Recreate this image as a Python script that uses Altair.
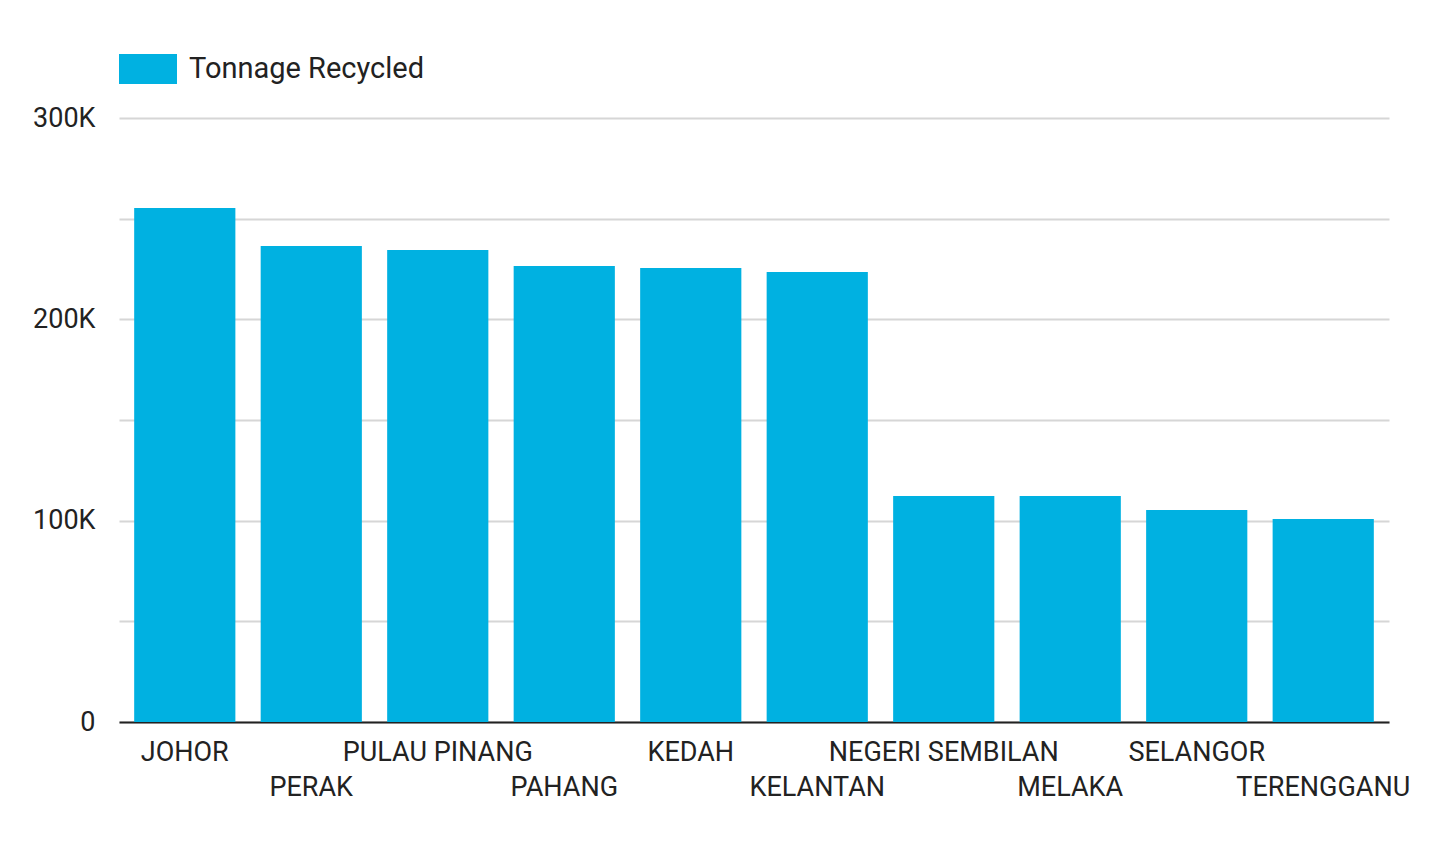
import altair as alt
import pandas as pd

states = ["JOHOR", "PERAK", "PULAU PINANG", "PAHANG", "KEDAH", "KELANTAN",
          "NEGERI SEMBILAN", "MELAKA", "SELANGOR", "TERENGGANU"]
tonnage = [255300, 236400, 234400, 226500, 225500, 223500,
           112300, 112300, 105300, 100800]
series = ["Tonnage Recycled"] * len(states)

df = pd.DataFrame({"state": states, "tonnage": tonnage, "series": series})

second_row = states[1::2]
second_row_expr = "[" + ",".join("'" + s + "'" for s in second_row) + "]"

FONT = "Roboto"
TXT = "#222222"

chart = alt.Chart(df).mark_bar(color="#00b1e1").encode(
    x=alt.X("state:N", sort=states, title=None,
            scale=alt.Scale(paddingInner=0.2, paddingOuter=0.12),
            axis=alt.Axis(
                labelAngle=0, labelFontSize=27, labelFont=FONT, labelColor=TXT,
                labelPadding=17, labelLineHeight=35, ticks=False, grid=False,
                domainColor="#222222", domainWidth=2, labelFlush=False,
                labelOverlap=False, labelBaseline="top", labelLimit=600,
                labelExpr=f"indexof({second_row_expr}, datum.value) >= 0 ? ['', datum.label] : datum.label",
            )),
    y=alt.Y("tonnage:Q", title=None,
            scale=alt.Scale(domain=[0, 300000], nice=False),
            axis=alt.Axis(
                values=[0, 50000, 100000, 150000, 200000, 250000, 300000],
                labelExpr="datum.value == 0 ? '0' : (datum.value % 100000 ? '' : (datum.value / 1000) + 'K')",
                labelFontSize=27, labelFont=FONT, labelColor=TXT,
                labelPadding=24, ticks=False, domain=False,
                gridColor="#d6d6d6", gridWidth=2,
            )),
    fill=alt.Fill("series:N", title=None,
                  scale=alt.Scale(range=["#00b1e1"]),
                  legend=alt.Legend(
                      orient="none", legendX=0, legendY=-78,
                      symbolType="M-1,-0.517H1V0.517H-1Z", symbolSize=3364,
                      symbolStrokeWidth=0, symbolOpacity=1,
                      labelFontSize=29, labelFont=FONT, labelColor=TXT,
                      labelOffset=12, labelLimit=600,
                  )),
).properties(
    width=1270, height=604,
    background="white",
    padding={"left": 111, "top": 110, "right": 40, "bottom": 100},
    autosize=alt.AutoSizeParams(type="none"),
).configure_view(strokeWidth=0, stroke="transparent")

chart.save("out.html", embed_options={"renderer": "svg", "actions": False})
